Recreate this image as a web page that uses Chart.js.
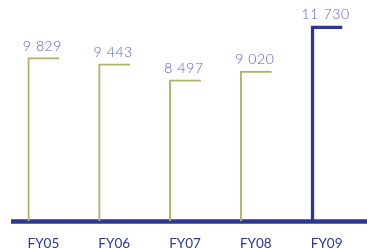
<!DOCTYPE html>
<html>
<head>
<meta charset="utf-8">
<script src="https://cdn.jsdelivr.net/npm/chart.js@4/dist/chart.umd.min.js"></script>
<style>
html,body{margin:0;padding:0;background:#fff;}
#wrap{position:relative;width:367px;height:249px;}
</style>
</head>
<body>
<div id="wrap"><canvas id="c"></canvas></div>
<script>
const categories = ["FY05", "FY06", "FY07", "FY08", "FY09"];
const revenue = [9829, 9443, 8497, 9020, 11730];
const highlightIndex = 4;

const OLIVE = "#b3af6e";
const BLUE = "#2b3790";
const LABEL = "#5a62b6";

function fmt(v){ return String(v).replace(/\B(?=(\d{3})+(?!\d))/g, " "); }

const baseline = {
  id: "baseline",
  beforeDatasetsDraw(chart){
    const ctx = chart.ctx;
    const y = chart.scales.x.top;
    ctx.save();
    ctx.strokeStyle = BLUE;
    ctx.lineWidth = 4.5;
    ctx.beginPath();
    ctx.moveTo(chart.chartArea.left + 3, y);
    ctx.lineTo(chart.width, y);
    ctx.stroke();
    ctx.restore();
  }
};

const valueLabels = {
  id: "valueLabels",
  afterDatasetsDraw(chart){
    const ctx = chart.ctx;
    const meta = chart.getDatasetMeta(0);
    ctx.save();
    ctx.font = "300 14px Lato, 'Open Sans', sans-serif";
    if ("letterSpacing" in ctx) ctx.letterSpacing = "0.6px";
    ctx.fillStyle = LABEL;
    ctx.textAlign = "center";
    ctx.textBaseline = "bottom";
    meta.data.forEach((bar, i) => {
      ctx.fillText(fmt(revenue[i]), bar.x - 1, bar.y - 4);
    });
    ctx.restore();
  }
};

new Chart(document.getElementById("c"), {
  type: "bar",
  data: {
    labels: categories,
    datasets: [{
      data: revenue,
      backgroundColor: "rgba(0,0,0,0)",
      borderColor: ctx => ctx.dataIndex === highlightIndex ? BLUE : OLIVE,
      borderWidth: ctx => ctx.dataIndex === highlightIndex
        ? {left: 3.5, top: 3.5, right: 0, bottom: 0}
        : {left: 2, top: 2, right: 0, bottom: 0},
      borderSkipped: false,
      categoryPercentage: 1,
      barPercentage: 0.45
    }]
  },
  options: {
    responsive: true,
    maintainAspectRatio: false,
    animation: false,
    devicePixelRatio: 1,
    layout: {padding: {left: 8, right: 5, top: 0, bottom: 0}},
    plugins: {legend: {display: false}, tooltip: {enabled: false}},
    scales: {
      y: {display: false, min: 0, max: 13250},
      x: {
        grid: {display: false, drawTicks: true, tickLength: 16},
        border: {display: false},
        ticks: {
          color: BLUE,
          padding: 0,
          font: {family: "Lato, 'Open Sans', sans-serif", size: 13.5, lineHeight: 0.86}
        }
      }
    }
  },
  plugins: [baseline, valueLabels]
});
</script>
</body>
</html>
